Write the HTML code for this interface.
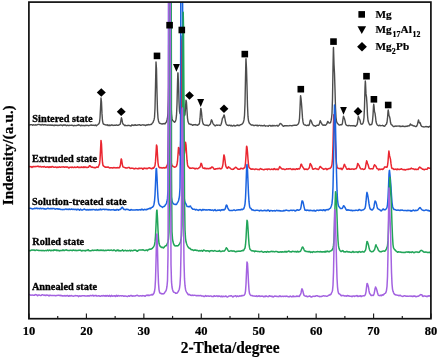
<!DOCTYPE html>
<html><head><meta charset="utf-8"><style>html,body{margin:0;padding:0;background:#fff;width:438px;height:358px;overflow:hidden}svg{display:block;will-change:transform}</style></head>
<body><svg width="438" height="358" viewBox="0 0 438 358">
<defs><clipPath id="c"><rect x="29" y="2" width="402" height="316.5"/></clipPath></defs>
<rect width="438" height="358" fill="#fff"/>
<g clip-path="url(#c)"><polyline points="29.0,124.9 29.5,125.0 30.0,124.9 30.5,124.7 31.0,124.6 31.5,124.6 32.0,124.7 32.5,125.2 33.0,125.1 33.5,124.7 34.0,124.9 34.5,125.1 35.0,125.1 35.5,124.8 36.0,124.8 36.5,125.1 37.0,124.9 37.5,124.6 38.0,124.5 38.5,124.4 39.0,124.4 39.5,124.6 40.0,124.7 40.5,124.8 41.0,125.1 41.5,125.0 42.0,124.5 42.5,124.4 43.0,124.9 43.5,125.1 44.0,124.8 44.5,124.7 45.0,124.8 45.5,124.7 46.0,125.1 46.5,125.1 47.0,124.9 47.5,125.3 48.0,125.2 48.5,125.0 49.0,125.1 49.5,125.2 50.0,124.9 50.5,124.9 51.0,125.4 51.5,125.1 52.0,125.0 52.5,125.4 53.0,125.1 53.5,125.4 54.0,125.7 54.5,125.1 55.0,125.0 55.5,125.3 56.0,125.3 56.5,125.3 57.0,125.3 57.5,125.3 58.0,125.6 58.5,125.4 59.0,125.1 59.5,125.2 60.0,125.2 60.5,125.0 61.0,124.9 61.5,125.1 62.0,125.4 62.5,125.7 63.0,125.2 63.5,124.9 64.0,125.3 64.5,125.0 65.0,124.8 65.5,125.2 66.0,125.5 66.5,125.7 67.0,125.4 67.5,125.2 68.0,125.2 68.5,125.6 69.0,125.6 69.5,125.2 70.0,125.4 70.5,125.4 71.0,125.3 71.5,125.1 72.0,125.1 72.5,125.3 73.0,125.5 73.5,125.8 74.0,125.5 74.5,125.5 75.0,125.5 75.5,125.6 76.0,125.6 76.5,125.5 77.0,125.3 77.5,125.2 78.0,125.2 78.5,124.7 79.0,125.0 79.5,125.2 80.0,125.3 80.5,125.9 81.0,125.7 81.5,125.2 82.0,125.4 82.5,125.6 83.0,125.5 83.5,125.4 84.0,125.6 84.5,125.7 85.0,125.4 85.5,125.3 86.0,125.5 86.5,125.3 87.0,125.3 87.5,125.4 88.0,125.5 88.5,125.7 89.0,125.6 89.5,125.4 90.0,125.4 90.5,125.1 91.0,124.9 91.5,125.3 92.0,125.1 92.5,125.2 93.0,125.2 93.5,125.2 94.0,125.4 94.5,125.3 95.0,125.5 95.5,125.0 96.0,125.1 96.5,125.7 97.0,125.3 97.5,124.8 98.0,124.5 98.5,124.0 99.0,123.6 99.5,122.3 100.0,118.0 100.5,108.6 101.0,98.0 101.5,102.2 102.0,113.9 102.5,120.7 103.0,123.1 103.5,124.1 104.0,124.3 104.5,124.5 105.0,124.7 105.5,124.9 106.0,125.0 106.5,125.0 107.0,124.9 107.5,124.8 108.0,125.5 108.5,125.5 109.0,125.0 109.5,125.2 110.0,125.7 110.5,125.4 111.0,125.0 111.5,125.2 112.0,124.9 112.5,125.2 113.0,125.5 113.5,125.4 114.0,125.2 114.5,125.3 115.0,125.3 115.5,125.2 116.0,125.1 116.5,124.9 117.0,125.3 117.5,125.4 118.0,125.2 118.5,125.2 119.0,124.9 119.5,124.6 120.0,124.4 120.5,123.0 121.0,119.9 121.4,117.8 121.5,117.9 122.0,119.8 122.5,122.7 123.0,124.1 123.5,124.3 124.0,124.9 124.5,125.5 125.0,125.3 125.5,125.3 126.0,125.5 126.5,125.6 127.0,125.6 127.5,125.4 128.0,125.5 128.5,125.4 129.0,125.3 129.5,125.6 130.0,125.6 130.5,125.9 131.0,126.0 131.5,125.4 132.0,124.8 132.5,125.2 133.0,125.3 133.5,125.1 134.0,125.5 134.5,125.2 135.0,124.6 135.5,124.9 136.0,125.4 136.5,125.3 137.0,125.2 137.5,125.1 138.0,124.8 138.5,124.9 139.0,125.0 139.5,124.7 140.0,125.0 140.5,125.3 141.0,125.3 141.5,125.1 142.0,124.9 142.5,124.9 143.0,124.8 143.5,125.0 144.0,125.0 144.5,125.0 145.0,125.3 145.5,125.6 146.0,125.2 146.5,124.9 147.0,125.2 147.5,124.9 148.0,124.6 148.5,124.5 149.0,124.9 149.5,124.9 150.0,124.6 150.5,124.5 151.0,124.5 151.5,124.4 152.0,123.5 152.5,123.0 153.0,122.5 153.5,121.1 154.0,119.9 154.5,117.4 155.0,108.2 155.5,86.0 156.0,61.9 156.5,68.7 157.0,93.0 157.5,110.6 158.0,118.1 158.5,120.9 159.0,122.3 159.5,123.2 160.0,123.5 160.5,123.5 161.0,123.7 161.5,123.9 162.0,124.1 162.5,124.0 163.0,123.7 163.5,123.9 164.0,123.5 164.5,123.7 165.0,124.0 165.5,123.2 166.0,122.5 166.5,121.9 167.0,119.9 167.5,117.6 168.0,113.1 168.5,99.0 169.0,66.4 169.5,30.7 170.0,39.7 170.5,74.3 171.0,102.0 171.5,113.7 172.0,118.4 172.5,120.3 173.0,120.9 173.5,121.2 174.0,121.8 174.5,122.3 175.0,121.9 175.5,121.1 176.0,119.4 176.5,115.2 177.0,104.2 177.5,83.4 177.8,73.5 178.0,72.8 178.5,84.0 179.0,101.4 179.5,111.3 180.0,113.5 180.5,111.0 181.0,99.0 181.5,68.9 182.0,35.9 182.5,43.6 183.0,74.3 183.5,101.0 184.0,112.5 184.5,115.7 185.0,114.5 185.5,108.0 186.0,100.1 186.5,102.5 187.0,110.8 187.5,118.1 188.0,121.5 188.5,122.8 189.0,123.9 189.5,124.1 190.0,124.0 190.5,124.3 191.0,124.6 191.5,124.4 192.0,124.6 192.5,125.3 193.0,125.2 193.5,124.8 194.0,124.7 194.5,124.8 195.0,124.8 195.5,124.5 196.0,125.0 196.5,125.0 197.0,124.9 197.5,125.3 198.0,125.0 198.5,124.5 199.0,124.3 199.5,122.9 200.0,118.7 200.5,111.5 200.8,108.4 201.0,108.8 201.5,112.4 202.0,117.9 202.5,121.6 203.0,123.4 203.5,124.4 204.0,124.7 204.5,124.9 205.0,125.2 205.5,125.1 206.0,125.1 206.5,125.3 207.0,125.3 207.5,125.3 208.0,125.7 208.5,125.7 209.0,125.3 209.5,124.7 210.0,124.5 210.5,123.6 211.0,121.3 211.5,119.8 212.0,120.7 212.5,122.2 213.0,123.5 213.5,124.3 214.0,124.9 214.5,125.2 215.0,125.9 215.5,125.9 216.0,125.3 216.5,125.0 217.0,125.2 217.5,125.4 218.0,125.1 218.5,125.1 219.0,125.1 219.5,125.2 220.0,125.5 220.5,125.3 221.0,124.5 221.5,123.1 222.0,120.6 222.4,118.4 222.5,118.1 223.0,117.7 223.5,116.6 224.0,115.0 224.1,115.1 224.5,116.1 225.0,119.0 225.5,121.8 226.0,123.4 226.5,124.6 227.0,125.1 227.5,125.2 228.0,125.4 228.5,125.6 229.0,125.2 229.5,125.1 230.0,125.5 230.5,125.8 231.0,125.3 231.5,125.4 232.0,126.0 232.5,126.0 233.0,125.8 233.5,125.4 234.0,125.3 234.5,125.8 235.0,126.0 235.5,125.8 236.0,125.7 236.5,125.4 237.0,125.2 237.5,125.0 238.0,125.5 238.5,125.3 239.0,125.3 239.5,125.5 240.0,125.0 240.5,124.7 241.0,124.6 241.5,124.5 242.0,124.2 242.5,123.6 243.0,123.0 243.5,121.9 244.0,119.9 244.5,115.5 245.0,103.6 245.5,77.7 245.9,59.5 246.0,58.8 246.5,68.6 247.0,86.1 247.5,105.9 248.0,116.7 248.5,120.8 249.0,122.4 249.5,123.5 250.0,123.8 250.5,124.4 251.0,124.8 251.5,125.0 252.0,125.2 252.5,125.0 253.0,125.1 253.5,125.4 254.0,125.7 254.5,125.5 255.0,125.4 255.5,125.3 256.0,125.4 256.5,125.6 257.0,125.1 257.5,125.4 258.0,126.0 258.5,125.7 259.0,125.3 259.5,125.4 260.0,125.4 260.5,125.7 261.0,125.7 261.5,125.5 262.0,125.8 262.5,125.8 263.0,125.8 263.5,125.8 264.0,125.4 264.5,125.3 265.0,125.9 265.5,126.2 266.0,125.9 266.5,125.9 267.0,125.9 267.5,125.9 268.0,126.3 268.5,126.1 269.0,125.4 269.5,125.4 270.0,125.4 270.5,125.8 271.0,126.2 271.5,125.9 272.0,125.4 272.5,125.5 273.0,126.1 273.5,125.6 274.0,125.4 274.5,125.8 275.0,125.9 275.5,125.9 276.0,125.6 276.5,125.5 277.0,125.3 277.5,125.9 278.0,126.2 278.5,125.8 279.0,125.3 279.5,124.5 280.0,123.7 280.4,123.4 280.5,123.5 281.0,123.8 281.5,124.1 282.0,124.8 282.5,125.5 283.0,125.9 283.5,126.4 284.0,126.1 284.5,125.6 285.0,125.7 285.5,125.7 286.0,125.6 286.5,125.7 287.0,125.6 287.5,125.8 288.0,125.9 288.5,125.9 289.0,125.8 289.5,125.6 290.0,125.5 290.5,125.6 291.0,125.6 291.5,125.7 292.0,125.8 292.5,125.5 293.0,125.5 293.5,125.4 294.0,125.3 294.5,125.4 295.0,125.1 295.5,125.1 296.0,125.4 296.5,125.3 297.0,125.0 297.5,124.7 298.0,124.2 298.5,123.5 299.0,122.1 299.5,118.3 300.0,108.6 300.5,96.4 300.6,95.7 301.0,98.4 301.5,103.6 302.0,110.4 302.5,117.9 303.0,121.9 303.5,123.9 304.0,124.5 304.5,124.9 305.0,125.0 305.5,125.0 306.0,125.4 306.5,125.6 307.0,125.5 307.5,125.1 308.0,125.1 308.5,125.5 309.0,125.3 309.5,124.0 310.0,121.2 310.4,119.9 310.5,120.1 311.0,120.6 311.5,121.5 312.0,123.2 312.5,124.1 313.0,124.8 313.5,125.6 314.0,125.7 314.5,125.6 315.0,126.0 315.5,126.3 316.0,125.9 316.5,125.6 317.0,125.3 317.5,125.2 318.0,125.4 318.5,125.4 319.0,124.8 319.5,123.6 320.0,121.3 320.2,120.6 320.5,121.2 321.0,122.3 321.5,123.1 322.0,124.3 322.5,124.9 323.0,125.2 323.5,125.2 324.0,124.8 324.5,125.1 325.0,125.4 325.5,125.3 326.0,124.8 326.5,124.2 327.0,123.5 327.5,122.0 327.7,121.4 328.0,121.6 328.5,122.6 329.0,122.9 329.5,123.0 330.0,123.0 330.5,122.7 331.0,120.9 331.5,118.5 332.0,113.6 332.5,98.4 333.0,67.5 333.4,47.8 333.5,47.4 334.0,64.1 334.5,73.5 335.0,89.5 335.5,107.8 336.0,117.3 336.5,121.3 337.0,122.7 337.5,123.3 338.0,123.9 338.5,124.6 339.0,124.8 339.5,125.0 340.0,125.0 340.5,124.7 341.0,124.8 341.5,124.8 342.0,124.6 342.5,122.7 343.0,118.9 343.5,116.1 344.0,117.9 344.5,118.9 345.0,120.6 345.5,123.4 346.0,124.7 346.5,125.1 347.0,125.5 347.5,125.6 348.0,125.7 348.5,125.7 349.0,125.3 349.5,125.6 350.0,125.6 350.5,125.7 351.0,125.9 351.5,125.6 352.0,125.6 352.5,125.7 353.0,125.8 353.5,125.8 354.0,125.5 354.5,125.8 355.0,126.2 355.5,126.3 356.0,125.7 356.5,125.1 357.0,124.7 357.5,122.8 358.0,118.6 358.4,116.4 358.5,116.7 359.0,118.7 359.5,119.1 360.0,120.2 360.5,122.7 361.0,124.0 361.5,124.1 362.0,124.2 362.5,123.9 363.0,123.1 363.5,121.5 364.0,117.5 364.5,106.8 365.0,87.8 365.3,81.0 365.5,82.7 366.0,93.9 366.5,97.1 367.0,104.4 367.5,115.2 368.0,120.5 368.5,122.3 369.0,123.4 369.5,124.6 370.0,125.1 370.5,124.6 371.0,124.5 371.5,124.6 372.0,123.6 372.5,120.8 373.0,115.1 373.5,106.1 373.7,104.2 374.0,106.0 374.5,111.6 375.0,113.1 375.5,116.8 376.0,121.5 376.5,123.4 377.0,124.3 377.5,125.1 378.0,125.3 378.5,125.7 379.0,125.6 379.5,125.2 380.0,125.4 380.5,125.7 381.0,125.6 381.5,125.6 382.0,125.6 382.5,125.3 383.0,125.6 383.5,126.1 384.0,126.0 384.5,126.3 385.0,125.9 385.5,125.0 386.0,124.5 386.5,124.0 387.0,122.3 387.5,118.2 388.0,111.2 388.2,110.0 388.5,111.6 389.0,115.7 389.5,116.5 390.0,118.6 390.5,122.3 391.0,124.2 391.5,124.9 392.0,125.0 392.5,125.3 393.0,126.2 393.5,126.6 394.0,126.6 394.5,126.4 395.0,126.0 395.5,126.2 396.0,126.4 396.5,126.1 397.0,126.0 397.5,126.1 398.0,126.1 398.5,126.1 399.0,125.9 399.5,125.9 400.0,126.6 400.5,126.6 401.0,126.1 401.5,126.3 402.0,126.5 402.5,126.2 403.0,126.0 403.5,126.4 404.0,126.5 404.5,126.4 405.0,126.6 405.5,126.5 406.0,126.2 406.5,126.2 407.0,126.5 407.5,126.2 408.0,125.7 408.5,125.9 409.0,126.0 409.5,125.7 410.0,124.9 410.3,124.1 410.5,124.0 411.0,125.0 411.5,124.9 412.0,125.1 412.5,125.6 413.0,125.5 413.5,125.8 414.0,126.0 414.5,125.9 415.0,126.3 415.5,126.5 416.0,126.6 416.5,126.4 417.0,125.4 417.5,124.2 418.0,122.0 418.5,119.9 419.0,121.7 419.5,123.1 420.0,122.5 420.5,123.7 421.0,125.5 421.5,126.1 422.0,126.5 422.5,126.6 423.0,126.7 423.5,126.9 424.0,127.0 424.5,126.9 425.0,126.9 425.5,126.6 426.0,126.5 426.5,126.7 427.0,126.8 427.5,126.6 428.0,126.9 428.5,127.2 429.0,126.7 429.5,126.3 430.0,126.5 430.5,126.9 431.0,126.8" fill="none" stroke="#4d4d4d" stroke-width="1.4" stroke-linejoin="round"/><polyline points="29.0,166.7 29.5,166.6 30.0,166.7 30.5,166.7 31.0,166.6 31.5,166.9 32.0,167.4 32.5,167.0 33.0,166.4 33.5,166.5 34.0,166.7 34.5,166.7 35.0,166.4 35.5,166.7 36.0,166.6 36.5,166.4 37.0,166.5 37.5,166.3 38.0,166.1 38.5,166.4 39.0,166.8 39.5,166.8 40.0,166.4 40.5,166.4 41.0,166.9 41.5,167.1 42.0,166.9 42.5,166.7 43.0,166.8 43.5,166.9 44.0,166.5 44.5,166.5 45.0,167.0 45.5,167.2 46.0,167.2 46.5,167.0 47.0,167.0 47.5,167.0 48.0,166.8 48.5,167.4 49.0,167.6 49.5,167.0 50.0,166.8 50.5,167.0 51.0,167.3 51.5,167.1 52.0,166.5 52.5,166.6 53.0,166.9 53.5,167.0 54.0,167.3 54.5,167.3 55.0,167.2 55.5,166.9 56.0,167.0 56.5,167.6 57.0,167.6 57.5,167.2 58.0,167.1 58.5,167.4 59.0,167.2 59.5,166.8 60.0,167.1 60.5,167.3 61.0,167.1 61.5,167.0 62.0,167.1 62.5,167.1 63.0,167.1 63.5,166.8 64.0,166.9 64.5,167.3 65.0,167.1 65.5,166.9 66.0,167.2 66.5,167.0 67.0,167.0 67.5,167.0 68.0,167.2 68.5,167.8 69.0,168.0 69.5,167.5 70.0,167.3 70.5,167.3 71.0,167.2 71.5,167.5 72.0,167.2 72.5,167.1 73.0,167.4 73.5,167.5 74.0,167.5 74.5,167.1 75.0,167.1 75.5,167.4 76.0,167.4 76.5,167.3 77.0,167.2 77.5,166.7 78.0,167.0 78.5,167.6 79.0,167.4 79.5,167.3 80.0,167.5 80.5,167.4 81.0,167.0 81.5,167.1 82.0,167.5 82.5,167.2 83.0,167.3 83.5,167.4 84.0,166.9 84.5,167.3 85.0,167.5 85.5,167.0 86.0,167.0 86.5,167.4 87.0,167.7 87.5,167.4 88.0,167.2 88.5,167.2 89.0,166.5 89.5,165.8 89.6,165.9 90.0,165.8 90.5,166.3 91.0,166.9 91.5,167.2 92.0,167.1 92.5,167.1 93.0,167.4 93.5,167.5 94.0,167.5 94.5,167.7 95.0,167.6 95.5,167.8 96.0,167.4 96.5,167.1 97.0,167.1 97.5,167.2 98.0,167.4 98.5,166.3 99.0,165.2 99.5,164.2 100.0,159.9 100.5,150.2 101.0,140.4 101.5,144.2 102.0,155.4 102.5,162.5 103.0,165.4 103.5,165.9 104.0,166.3 104.5,166.8 105.0,167.0 105.5,167.3 106.0,167.0 106.5,167.2 107.0,167.3 107.5,167.1 108.0,167.0 108.5,167.2 109.0,167.6 109.5,167.9 110.0,167.8 110.5,167.8 111.0,167.9 111.5,167.7 112.0,167.8 112.5,168.0 113.0,167.9 113.5,167.6 114.0,167.7 114.5,167.7 115.0,167.6 115.5,167.8 116.0,167.9 116.5,167.8 117.0,167.7 117.5,167.6 118.0,167.9 118.5,167.6 119.0,167.8 119.5,167.7 120.0,166.6 120.5,164.3 121.0,160.1 121.2,158.9 121.5,159.2 122.0,162.4 122.5,165.5 123.0,166.9 123.5,167.1 124.0,167.3 124.5,167.4 125.0,167.6 125.5,167.9 126.0,167.8 126.5,167.9 127.0,168.1 127.5,167.9 128.0,167.5 128.5,167.6 129.0,167.6 129.5,167.6 130.0,168.4 130.5,168.4 131.0,168.2 131.5,168.2 132.0,168.1 132.5,168.3 133.0,168.3 133.5,168.5 134.0,168.9 134.5,168.8 135.0,168.5 135.5,168.3 136.0,168.4 136.5,168.5 137.0,168.6 137.5,168.7 138.0,168.9 138.5,168.5 139.0,168.1 139.5,168.6 140.0,168.6 140.5,168.3 141.0,168.3 141.5,168.2 142.0,168.3 142.5,169.0 143.0,169.2 143.5,168.5 144.0,168.1 144.5,168.2 145.0,168.6 145.5,168.5 146.0,168.2 146.5,168.5 147.0,168.8 147.5,168.6 148.0,168.2 148.5,167.9 149.0,168.0 149.5,167.8 150.0,168.1 150.5,168.4 151.0,168.3 151.5,168.7 152.0,168.8 152.5,168.1 153.0,168.0 153.5,168.2 154.0,167.6 154.5,166.7 155.0,165.5 155.5,161.4 156.0,153.4 156.5,145.0 157.0,146.5 157.5,155.6 158.0,162.8 158.5,166.0 159.0,167.2 159.5,167.5 160.0,167.9 160.5,167.7 161.0,167.5 161.5,167.9 162.0,167.9 162.5,168.1 163.0,167.8 163.5,167.6 164.0,167.9 164.5,168.0 165.0,167.5 165.5,167.6 166.0,167.9 166.5,166.7 167.0,165.5 167.5,164.8 168.0,161.3 168.5,129.7 169.0,-65.8 169.5,-300.1 170.0,-66.0 170.5,129.2 171.0,160.5 171.5,164.2 172.0,165.3 172.5,165.9 173.0,166.4 173.5,166.7 174.0,166.8 174.5,167.2 175.0,167.2 175.5,166.9 176.0,166.6 176.5,166.0 177.0,164.6 177.5,161.2 178.0,154.6 178.5,147.5 179.0,148.0 179.5,152.9 180.0,155.2 180.5,150.3 181.0,129.6 181.5,84.6 182.0,39.9 182.5,49.1 183.0,93.0 183.5,131.9 184.0,150.0 184.5,153.3 185.0,148.1 185.5,142.2 186.0,144.9 186.5,152.8 187.0,160.2 187.5,164.7 188.0,166.4 188.5,166.8 189.0,167.4 189.5,168.1 190.0,168.4 190.5,168.1 191.0,168.1 191.5,168.3 192.0,168.2 192.5,167.9 193.0,168.1 193.5,168.2 194.0,168.2 194.5,168.4 195.0,168.9 195.5,168.8 196.0,168.3 196.5,168.4 197.0,168.6 197.5,168.8 198.0,168.6 198.5,168.2 199.0,167.8 199.5,167.5 200.0,167.1 200.5,165.4 201.0,163.3 201.5,163.6 202.0,165.5 202.5,167.3 203.0,168.1 203.5,168.3 204.0,168.1 204.5,168.0 205.0,168.8 205.5,168.6 206.0,168.2 206.5,168.7 207.0,168.7 207.5,168.5 208.0,168.6 208.5,168.7 209.0,168.7 209.5,168.3 210.0,168.3 210.5,168.4 211.0,167.9 211.5,167.4 212.0,166.9 212.5,167.1 213.0,167.6 213.5,168.3 214.0,169.0 214.5,169.2 215.0,169.3 215.5,169.0 216.0,168.7 216.5,168.9 217.0,168.7 217.5,168.6 218.0,168.7 218.5,168.6 219.0,168.3 219.5,168.2 220.0,168.5 220.5,168.8 221.0,168.9 221.5,168.5 222.0,167.9 222.5,166.6 223.0,163.8 223.5,158.5 223.9,154.9 224.0,155.0 224.5,156.7 225.0,160.4 225.5,164.5 226.0,166.7 226.5,167.4 227.0,168.2 227.5,168.4 228.0,167.4 228.5,166.9 228.6,167.4 229.0,167.3 229.5,167.4 230.0,168.0 230.5,168.6 231.0,168.9 231.5,169.2 232.0,169.3 232.5,169.3 233.0,169.4 233.5,169.2 234.0,168.6 234.5,168.1 235.0,167.8 235.5,167.2 236.0,167.4 236.5,167.9 237.0,168.1 237.5,168.8 238.0,169.3 238.5,169.1 239.0,169.1 239.5,169.3 240.0,169.2 240.5,168.4 241.0,168.2 241.5,168.6 242.0,168.5 242.5,168.5 243.0,168.9 243.5,168.6 244.0,167.8 244.5,167.9 245.0,166.9 245.5,163.0 246.0,155.7 246.5,147.3 246.6,146.2 247.0,147.0 247.5,152.3 248.0,159.2 248.5,164.6 249.0,167.3 249.5,168.0 250.0,168.3 250.5,168.6 251.0,169.2 251.5,169.2 252.0,169.0 252.5,169.2 253.0,168.9 253.5,169.1 254.0,169.3 254.5,169.5 255.0,169.4 255.5,169.0 256.0,168.9 256.5,169.1 257.0,169.3 257.5,169.5 258.0,169.5 258.5,169.4 259.0,169.7 259.5,169.5 260.0,168.9 260.5,168.6 261.0,168.7 261.5,169.2 262.0,169.3 262.5,169.3 263.0,169.6 263.5,169.7 264.0,169.8 264.5,169.4 265.0,169.2 265.5,169.2 266.0,169.3 266.5,169.2 267.0,169.1 267.5,169.6 268.0,169.2 268.5,169.0 269.0,169.1 269.5,169.1 270.0,169.5 270.5,169.4 271.0,169.4 271.5,169.1 272.0,169.2 272.5,169.4 273.0,169.3 273.5,169.4 274.0,168.8 274.5,168.6 275.0,169.1 275.5,169.6 276.0,169.6 276.5,169.3 277.0,169.0 277.5,169.2 278.0,169.7 278.5,169.2 279.0,168.3 279.5,167.0 279.9,166.6 280.0,167.4 280.5,167.7 281.0,168.0 281.5,168.7 282.0,168.8 282.5,169.1 283.0,169.2 283.5,168.9 284.0,169.2 284.5,169.5 285.0,169.5 285.5,169.4 286.0,169.2 286.5,168.8 287.0,169.0 287.5,169.1 288.0,168.9 288.5,168.8 289.0,168.9 289.5,168.8 290.0,168.6 290.5,168.7 291.0,169.0 291.5,169.4 292.0,169.7 292.5,169.4 293.0,168.8 293.5,169.3 294.0,169.4 294.5,169.1 295.0,169.5 295.5,169.5 296.0,168.9 296.5,168.7 297.0,169.0 297.5,169.3 298.0,168.9 298.5,168.6 299.0,168.9 299.5,169.0 300.0,168.0 300.5,166.4 301.0,164.8 301.1,164.2 301.5,164.3 302.0,165.6 302.5,166.7 303.0,167.4 303.5,168.2 304.0,169.0 304.5,169.5 305.0,169.0 305.5,169.2 306.0,169.4 306.5,169.1 307.0,169.5 307.5,169.5 308.0,169.2 308.5,168.6 309.0,168.2 309.5,167.1 310.0,164.1 310.4,163.5 310.5,164.1 311.0,164.7 311.5,165.4 312.0,166.9 312.5,168.7 313.0,169.3 313.5,169.2 314.0,168.8 314.5,168.8 315.0,168.6 315.5,168.3 316.0,168.8 316.5,169.0 317.0,168.9 317.5,169.0 318.0,169.4 318.5,169.5 319.0,168.6 319.5,167.5 320.0,166.5 320.5,166.5 321.0,167.3 321.5,167.7 322.0,168.2 322.5,168.5 323.0,168.7 323.5,169.4 324.0,169.2 324.5,168.9 325.0,168.9 325.5,168.6 326.0,168.5 326.5,169.0 327.0,169.7 327.5,169.4 328.0,168.7 328.5,168.7 329.0,168.6 329.5,168.5 330.0,168.4 330.5,167.9 331.0,167.5 331.5,166.4 332.0,164.3 332.5,158.7 333.0,144.7 333.5,122.8 333.8,114.7 334.0,115.2 334.5,125.7 335.0,133.9 335.5,146.3 336.0,157.9 336.5,163.8 337.0,166.4 337.5,167.8 338.0,168.3 338.5,168.3 339.0,168.6 339.5,168.5 340.0,168.7 340.5,168.9 341.0,168.1 341.5,168.8 342.0,169.6 342.5,168.8 343.0,168.1 343.5,167.1 344.0,165.3 344.3,164.4 344.5,164.3 345.0,165.6 345.5,166.4 346.0,167.5 346.5,168.5 347.0,169.3 347.5,169.3 348.0,169.0 348.5,168.8 349.0,168.5 349.5,169.2 350.0,169.3 350.5,169.1 351.0,169.3 351.5,169.0 352.0,168.9 352.5,169.0 353.0,169.0 353.5,169.2 354.0,169.4 354.5,169.1 355.0,168.8 355.5,168.8 356.0,168.7 356.5,168.1 357.0,166.9 357.5,164.5 357.7,163.5 358.0,163.6 358.5,164.7 359.0,165.2 359.5,166.4 360.0,167.8 360.5,168.5 361.0,169.0 361.5,169.1 362.0,168.9 362.5,168.8 363.0,169.1 363.5,169.4 364.0,169.4 364.5,169.2 365.0,168.7 365.5,167.2 366.0,164.0 366.5,161.4 366.6,160.8 367.0,161.4 367.5,163.7 368.0,164.4 368.5,166.2 369.0,168.1 369.5,168.6 370.0,168.8 370.5,168.9 371.0,168.7 371.5,168.7 372.0,168.8 372.5,168.9 373.0,168.7 373.5,167.4 374.0,165.8 374.5,164.7 375.0,165.3 375.5,165.9 376.0,166.2 376.5,167.6 377.0,168.6 377.5,168.6 378.0,168.9 378.5,169.9 379.0,169.4 379.5,169.0 380.0,169.5 380.5,169.3 381.0,169.4 381.5,169.2 382.0,168.9 382.5,169.4 383.0,169.3 383.5,168.7 384.0,168.2 384.5,167.2 384.9,166.9 385.0,166.8 385.5,167.1 386.0,167.2 386.5,167.1 387.0,167.3 387.5,165.6 388.0,161.8 388.5,155.0 388.9,151.0 389.0,151.6 389.5,155.4 390.0,157.4 390.5,159.4 391.0,163.7 391.5,166.9 392.0,168.4 392.5,168.5 393.0,168.6 393.5,169.2 394.0,169.5 394.5,169.3 395.0,169.2 395.5,169.2 396.0,169.1 396.5,169.6 397.0,169.7 397.5,169.1 398.0,169.0 398.5,169.4 399.0,169.6 399.5,169.5 400.0,169.2 400.5,169.2 401.0,169.0 401.5,168.8 402.0,169.3 402.5,169.5 403.0,169.4 403.5,169.7 404.0,169.8 404.5,169.5 405.0,169.9 405.5,170.0 406.0,169.5 406.5,169.5 407.0,169.6 407.5,169.3 408.0,169.2 408.5,169.4 409.0,168.9 409.5,168.9 410.0,169.2 410.5,168.9 411.0,168.3 411.4,168.1 411.5,168.4 412.0,168.7 412.5,168.7 413.0,168.8 413.5,169.0 414.0,169.0 414.5,169.6 415.0,169.5 415.5,169.1 416.0,169.5 416.5,169.5 417.0,169.2 417.5,169.3 418.0,169.5 418.5,168.7 419.0,167.7 419.5,167.2 419.7,167.0 420.0,167.2 420.5,167.8 421.0,168.1 421.5,168.2 422.0,168.7 422.5,169.3 423.0,169.2 423.5,169.2 424.0,169.7 424.5,169.8 425.0,169.3 425.5,169.2 426.0,169.2 426.5,169.2 427.0,169.4 427.5,168.7 428.0,167.7 428.3,167.9 428.5,167.9 429.0,168.2 429.5,168.3 430.0,168.1 430.5,168.5 431.0,169.5" fill="none" stroke="#ea2630" stroke-width="1.5" stroke-linejoin="round"/><polyline points="29.0,208.3 29.5,208.2 30.0,208.2 30.5,208.3 31.0,208.5 31.5,208.6 32.0,208.9 32.5,208.9 33.0,208.8 33.5,208.8 34.0,208.7 34.5,208.3 35.0,208.2 35.5,208.5 36.0,208.5 36.5,208.1 37.0,208.3 37.5,208.7 38.0,208.4 38.5,208.5 39.0,208.5 39.5,208.7 40.0,208.5 40.5,208.2 41.0,208.5 41.5,208.8 42.0,208.6 42.5,208.5 43.0,208.4 43.5,208.5 44.0,209.0 44.5,208.8 45.0,208.9 45.5,209.2 46.0,208.9 46.5,208.9 47.0,208.7 47.5,208.2 48.0,208.2 48.5,208.5 49.0,208.7 49.5,208.7 50.0,208.8 50.5,208.5 51.0,208.6 51.5,208.7 52.0,208.5 52.5,208.7 53.0,208.6 53.5,208.5 54.0,208.5 54.5,208.8 55.0,209.1 55.5,209.2 56.0,208.9 56.5,208.7 57.0,208.7 57.5,209.0 58.0,208.8 58.5,208.9 59.0,209.3 59.5,208.9 60.0,209.0 60.5,209.4 61.0,209.4 61.5,209.4 62.0,209.4 62.5,209.5 63.0,209.7 63.5,209.4 64.0,209.5 64.5,209.6 65.0,209.3 65.5,209.1 66.0,209.0 66.5,209.4 67.0,209.2 67.5,209.2 68.0,209.5 68.5,209.5 69.0,209.0 69.5,208.9 70.0,209.5 70.5,209.4 71.0,209.3 71.5,209.0 72.0,209.1 72.5,209.4 73.0,209.5 73.5,209.3 74.0,209.2 74.5,209.6 75.0,209.6 75.5,209.5 76.0,209.2 76.5,209.9 77.0,209.8 77.5,209.2 78.0,209.4 78.5,209.3 79.0,209.6 79.5,210.2 80.0,209.8 80.5,209.1 81.0,209.5 81.5,210.0 82.0,210.0 82.5,210.0 83.0,209.7 83.5,209.4 84.0,209.3 84.5,209.0 85.0,209.5 85.5,209.7 86.0,209.9 86.5,210.1 87.0,209.5 87.5,209.7 88.0,210.1 88.5,210.1 89.0,209.5 89.5,209.5 90.0,210.0 90.5,209.8 91.0,209.4 91.5,209.7 92.0,209.9 92.5,209.5 93.0,209.4 93.5,209.4 94.0,209.6 94.5,209.7 95.0,209.9 95.5,210.0 96.0,209.5 96.5,209.4 97.0,209.9 97.5,209.9 98.0,210.0 98.5,209.8 99.0,209.4 99.5,209.7 100.0,209.7 100.5,209.0 101.0,209.5 101.5,209.8 102.0,209.5 102.5,209.4 103.0,209.2 103.5,209.2 104.0,209.4 104.5,209.7 105.0,209.3 105.5,209.4 106.0,209.6 106.5,209.3 107.0,209.6 107.5,209.8 108.0,209.4 108.5,209.8 109.0,209.9 109.5,209.6 110.0,209.8 110.5,210.0 111.0,209.9 111.5,209.8 112.0,209.8 112.5,209.8 113.0,209.8 113.5,209.5 114.0,210.0 114.5,210.2 115.0,209.8 115.5,210.2 116.0,210.2 116.5,209.6 117.0,209.7 117.5,209.6 118.0,209.7 118.5,210.2 119.0,209.8 119.5,209.4 120.0,209.4 120.5,209.4 121.0,208.7 121.5,208.1 122.0,207.3 122.5,207.3 123.0,208.3 123.5,208.9 124.0,209.4 124.5,209.4 125.0,209.5 125.5,209.8 126.0,209.5 126.5,209.3 127.0,209.2 127.5,209.6 128.0,209.6 128.5,209.6 129.0,210.0 129.5,210.2 130.0,210.3 130.5,210.0 131.0,209.5 131.5,209.7 132.0,210.0 132.5,210.0 133.0,210.0 133.5,210.0 134.0,210.1 134.5,210.0 135.0,210.0 135.5,209.9 136.0,209.8 136.5,209.8 137.0,209.9 137.5,209.8 138.0,209.9 138.5,210.0 139.0,209.8 139.5,209.8 140.0,209.6 140.5,210.0 141.0,210.0 141.5,209.3 142.0,209.2 142.5,209.4 143.0,209.9 143.5,210.0 144.0,209.7 144.5,209.5 145.0,209.3 145.5,209.6 146.0,209.9 146.5,209.5 147.0,209.2 147.5,209.4 148.0,208.9 148.5,208.8 149.0,208.8 149.5,208.2 150.0,208.2 150.5,208.6 151.0,208.1 151.5,207.4 152.0,207.4 152.5,207.2 153.0,206.5 153.5,205.9 154.0,204.2 154.5,201.2 155.0,194.9 155.5,183.7 156.0,171.4 156.2,168.5 156.5,168.4 157.0,177.0 157.5,189.0 158.0,197.6 158.5,202.2 159.0,204.1 159.5,205.0 160.0,205.7 160.5,206.1 161.0,206.4 161.5,206.5 162.0,207.0 162.5,207.4 163.0,207.0 163.5,206.6 164.0,206.6 164.5,206.4 165.0,205.5 165.5,204.8 166.0,204.1 166.5,203.2 167.0,201.3 167.5,198.4 168.0,189.2 168.5,104.4 169.0,-307.6 169.4,-599.8 169.5,-576.4 170.0,-96.7 170.5,160.7 171.0,194.3 171.5,198.8 172.0,200.8 172.5,202.1 173.0,203.1 173.5,203.9 174.0,204.2 174.5,204.3 175.0,204.4 175.5,204.3 176.0,204.4 176.5,204.5 177.0,203.5 177.5,202.6 178.0,201.9 178.5,200.8 179.0,198.8 179.5,195.6 180.0,187.8 180.5,136.9 181.0,-113.2 181.5,-537.3 181.7,-600.0 182.0,-467.1 182.5,-39.2 183.0,156.3 183.5,191.2 184.0,197.2 184.5,200.2 185.0,202.3 185.5,203.3 186.0,203.9 186.5,205.3 187.0,206.4 187.5,206.5 188.0,206.4 188.5,206.7 189.0,206.9 189.5,206.4 190.0,206.2 190.2,206.2 190.5,206.0 191.0,207.0 191.5,207.9 192.0,208.3 192.5,208.9 193.0,209.3 193.5,209.3 194.0,209.2 194.5,209.2 195.0,209.6 195.5,210.0 196.0,209.5 196.5,209.4 197.0,209.8 197.5,209.9 198.0,210.2 198.5,210.4 199.0,209.9 199.5,209.7 200.0,209.6 200.5,209.7 201.0,210.0 201.5,210.5 202.0,210.5 202.5,209.5 203.0,209.4 203.5,209.9 204.0,209.8 204.5,209.6 205.0,209.8 205.5,210.0 206.0,210.1 206.5,209.8 207.0,210.0 207.5,210.1 208.0,209.9 208.5,209.7 209.0,209.7 209.5,210.1 210.0,209.9 210.5,209.8 211.0,210.3 211.5,210.2 212.0,210.1 212.5,210.0 213.0,210.2 213.5,210.7 214.0,210.4 214.5,209.9 215.0,209.6 215.5,210.2 216.0,210.7 216.5,210.6 217.0,210.5 217.5,210.3 218.0,210.0 218.5,210.2 219.0,210.3 219.5,210.0 220.0,210.1 220.5,210.7 221.0,210.2 221.5,209.7 222.0,210.0 222.5,210.1 223.0,209.5 223.5,209.7 224.0,210.1 224.5,209.5 225.0,209.2 225.5,208.1 226.0,205.8 226.3,205.2 226.5,205.0 227.0,205.5 227.5,207.2 228.0,208.6 228.5,209.2 229.0,210.1 229.5,210.5 230.0,210.4 230.5,210.4 231.0,210.4 231.5,210.6 232.0,210.5 232.5,210.6 233.0,210.4 233.5,210.0 234.0,209.9 234.5,209.9 235.0,210.3 235.5,210.6 236.0,210.4 236.5,210.1 237.0,210.1 237.5,209.9 238.0,209.8 238.5,209.9 239.0,209.7 239.5,209.7 240.0,210.0 240.5,209.8 241.0,209.5 241.5,209.2 242.0,209.7 242.5,209.5 243.0,209.1 243.5,209.1 244.0,208.1 244.5,206.5 245.0,204.1 245.5,198.3 246.0,186.2 246.5,170.9 246.8,165.4 247.0,164.4 247.5,169.9 248.0,181.7 248.5,193.8 249.0,201.7 249.5,206.0 250.0,207.9 250.5,207.9 251.0,208.5 251.5,209.3 252.0,209.9 252.5,210.0 253.0,209.8 253.5,210.1 254.0,210.5 254.5,210.4 255.0,210.4 255.5,210.5 256.0,210.3 256.5,210.3 257.0,210.3 257.5,210.2 258.0,210.4 258.5,210.4 259.0,210.4 259.5,210.9 260.0,210.6 260.5,210.3 261.0,210.3 261.5,210.5 262.0,210.7 262.5,210.7 263.0,210.8 263.5,210.6 264.0,210.5 264.5,210.3 265.0,210.4 265.5,210.7 266.0,210.5 266.5,210.7 267.0,210.9 267.5,210.2 268.0,210.0 268.5,210.3 269.0,210.5 269.5,211.3 270.0,211.0 270.5,210.5 271.0,210.6 271.5,210.6 272.0,210.8 272.5,211.0 273.0,210.7 273.5,210.7 274.0,210.7 274.5,210.5 275.0,210.9 275.5,211.0 276.0,210.6 276.5,210.3 277.0,210.4 277.5,210.5 278.0,210.8 278.5,210.6 279.0,210.5 279.5,210.8 280.0,210.9 280.5,210.8 281.0,211.0 281.5,211.0 282.0,210.9 282.5,210.9 283.0,211.1 283.5,210.6 284.0,210.5 284.5,210.8 285.0,210.5 285.5,210.4 286.0,210.0 286.5,210.2 287.0,210.4 287.5,210.6 288.0,210.4 288.5,210.6 289.0,210.9 289.5,210.6 290.0,210.4 290.5,210.3 291.0,210.2 291.5,210.3 292.0,210.5 292.5,210.5 293.0,210.2 293.5,210.2 294.0,210.3 294.5,210.4 295.0,210.9 295.5,211.0 296.0,210.6 296.5,210.1 297.0,209.8 297.5,209.8 298.0,210.2 298.5,210.3 299.0,210.0 299.5,209.9 300.0,209.5 300.5,209.1 301.0,207.1 301.5,203.8 302.0,201.0 302.1,200.9 302.5,200.9 303.0,202.0 303.5,204.2 304.0,206.6 304.5,208.6 305.0,210.2 305.5,210.3 306.0,210.1 306.5,210.5 307.0,210.2 307.5,210.1 308.0,210.3 308.5,210.2 309.0,210.7 309.5,210.5 310.0,210.2 310.5,210.6 311.0,210.4 311.5,210.4 312.0,210.7 312.5,210.7 313.0,210.6 313.5,210.7 314.0,210.2 314.5,210.4 315.0,211.2 315.5,211.1 316.0,210.9 316.5,210.4 317.0,210.1 317.5,210.3 318.0,210.2 318.5,210.5 319.0,210.4 319.5,210.2 320.0,210.0 320.5,209.9 321.0,210.3 321.5,210.2 322.0,210.0 322.5,210.5 323.0,210.4 323.5,209.7 324.0,209.8 324.5,210.2 325.0,210.7 325.5,210.5 326.0,209.8 326.5,209.6 327.0,209.8 327.5,209.6 328.0,209.5 328.5,209.7 329.0,209.2 329.5,208.7 330.0,208.4 330.5,208.0 331.0,206.8 331.5,205.5 332.0,203.4 332.5,198.3 333.0,187.2 333.5,164.6 334.0,130.8 334.5,105.0 335.0,109.0 335.5,125.9 336.0,148.5 336.5,173.0 337.0,190.4 337.5,199.6 338.0,203.6 338.5,205.8 339.0,206.7 339.5,207.2 340.0,208.0 340.5,208.5 341.0,208.4 341.5,208.6 342.0,208.6 342.5,208.0 343.0,206.9 343.5,205.7 344.0,206.0 344.5,206.7 345.0,207.4 345.5,208.4 346.0,209.4 346.5,210.0 347.0,210.3 347.5,210.0 348.0,209.7 348.5,210.0 349.0,210.2 349.5,210.2 350.0,210.1 350.5,210.4 351.0,210.5 351.5,210.2 352.0,210.4 352.5,210.8 353.0,210.5 353.5,210.5 354.0,210.4 354.5,210.5 355.0,210.6 355.5,210.2 356.0,210.2 356.5,210.2 357.0,210.3 357.5,210.5 358.0,210.4 358.5,210.3 359.0,209.5 359.5,209.6 360.0,210.0 360.5,210.0 361.0,210.5 361.5,210.5 362.0,210.1 362.5,210.0 363.0,209.9 363.5,209.7 364.0,209.3 364.5,208.8 365.0,208.2 365.5,206.1 366.0,201.7 366.5,195.8 366.9,192.6 367.0,192.4 367.5,194.1 368.0,196.9 368.5,200.1 369.0,203.7 369.5,206.5 370.0,208.6 370.5,209.4 371.0,209.3 371.5,209.8 372.0,210.1 372.5,209.8 373.0,209.1 373.5,208.5 374.0,206.7 374.5,203.3 375.0,201.1 375.5,201.2 376.0,202.4 376.5,204.2 377.0,206.5 377.5,208.2 378.0,208.9 378.5,209.1 379.0,209.5 379.5,209.6 380.0,209.9 380.5,210.5 381.0,210.9 381.5,210.8 382.0,210.1 382.5,209.7 383.0,209.1 383.5,209.1 384.0,209.7 384.5,209.8 385.0,209.8 385.5,209.5 386.0,209.0 386.5,208.4 387.0,207.5 387.5,204.5 388.0,198.1 388.5,187.0 389.0,174.4 389.3,170.6 389.5,170.3 390.0,175.2 390.5,180.5 391.0,187.1 391.5,195.6 392.0,202.3 392.5,206.2 393.0,207.9 393.5,208.8 394.0,209.4 394.5,209.5 395.0,209.6 395.5,209.8 396.0,210.1 396.5,210.2 397.0,210.2 397.5,210.2 398.0,209.9 398.5,210.2 399.0,210.3 399.5,210.3 400.0,210.6 400.5,210.2 401.0,209.9 401.5,210.2 402.0,210.2 402.5,210.1 403.0,210.4 403.5,210.6 404.0,210.6 404.5,210.5 405.0,210.5 405.5,210.5 406.0,210.4 406.5,210.7 407.0,210.7 407.5,210.5 408.0,210.3 408.5,210.4 409.0,210.7 409.5,210.6 410.0,210.4 410.5,210.5 411.0,211.2 411.5,211.0 412.0,210.6 412.5,210.7 413.0,210.2 413.5,210.1 414.0,210.5 414.5,210.7 415.0,210.8 415.5,210.3 416.0,210.3 416.5,210.5 417.0,210.4 417.5,210.2 418.0,209.8 418.5,209.1 419.0,208.5 419.5,207.9 419.7,207.7 420.0,207.5 420.5,208.1 421.0,208.7 421.5,209.2 422.0,209.9 422.5,210.1 423.0,210.3 423.5,210.5 424.0,210.6 424.5,210.6 425.0,210.4 425.5,210.0 426.0,210.0 426.5,210.1 427.0,210.2 427.5,210.6 428.0,210.3 428.5,210.4 429.0,210.9 429.5,210.8 430.0,211.0 430.5,211.4 431.0,210.8" fill="none" stroke="#1b64e0" stroke-width="1.5" stroke-linejoin="round"/><polyline points="29.0,250.6 29.5,250.7 30.0,250.6 30.5,250.7 31.0,250.4 31.5,250.1 32.0,250.1 32.5,250.1 33.0,250.2 33.5,250.1 34.0,249.9 34.5,250.3 35.0,250.5 35.5,250.4 36.0,250.1 36.5,249.9 37.0,250.1 37.5,250.3 38.0,250.3 38.5,250.5 39.0,250.6 39.5,250.4 40.0,250.4 40.5,250.5 41.0,250.4 41.5,250.5 42.0,250.7 42.5,250.5 43.0,250.4 43.5,250.5 44.0,250.7 44.5,250.8 45.0,250.6 45.5,250.6 46.0,250.6 46.5,250.7 47.0,250.6 47.5,250.0 48.0,250.2 48.5,250.7 49.0,250.2 49.5,250.1 50.0,250.2 50.5,250.6 51.0,250.9 51.5,250.2 52.0,250.2 52.5,250.4 53.0,250.7 53.5,250.6 54.0,249.7 54.5,249.9 55.0,250.3 55.5,250.2 56.0,249.9 56.5,250.0 57.0,250.8 57.5,250.3 58.0,250.2 58.5,250.5 59.0,250.7 59.5,250.9 60.0,250.4 60.5,250.6 61.0,250.7 61.5,250.4 62.0,250.4 62.5,250.4 63.0,249.9 63.5,250.4 64.0,250.7 64.5,250.2 65.0,250.3 65.5,250.1 66.0,249.8 66.5,250.0 67.0,250.2 67.5,250.3 68.0,250.6 68.5,250.5 69.0,250.4 69.5,250.6 70.0,250.3 70.5,250.2 71.0,250.2 71.5,250.4 72.0,250.7 72.5,250.5 73.0,250.1 73.5,250.1 74.0,250.2 74.5,250.4 75.0,250.5 75.5,250.2 76.0,250.4 76.5,250.7 77.0,250.4 77.5,250.5 78.0,250.5 78.5,250.2 79.0,250.3 79.5,250.2 80.0,250.1 80.5,250.2 81.0,250.6 81.5,251.0 82.0,250.6 82.5,250.6 83.0,250.7 83.5,250.4 84.0,250.6 84.5,250.6 85.0,250.9 85.5,250.9 86.0,250.2 86.5,250.4 87.0,250.5 87.5,250.2 88.0,249.7 88.5,250.0 89.0,250.7 89.5,250.7 90.0,250.7 90.5,250.9 91.0,250.7 91.5,250.5 92.0,250.4 92.5,250.1 93.0,250.5 93.5,250.6 94.0,250.2 94.5,250.2 95.0,250.4 95.5,250.2 96.0,250.3 96.5,250.4 97.0,250.0 97.5,249.8 98.0,250.5 98.5,250.4 99.0,250.1 99.5,250.5 100.0,250.6 100.5,250.2 101.0,250.0 101.5,250.3 102.0,250.5 102.5,250.4 103.0,250.0 103.5,250.3 104.0,250.8 104.5,250.6 105.0,250.3 105.5,250.3 106.0,250.4 106.5,250.5 107.0,250.3 107.5,250.1 108.0,250.3 108.5,250.1 109.0,250.2 109.5,250.4 110.0,250.3 110.5,250.3 111.0,250.1 111.5,250.0 112.0,250.4 112.5,250.5 113.0,250.6 113.5,250.3 114.0,249.8 114.5,250.1 115.0,250.5 115.5,250.9 116.0,250.9 116.5,250.3 117.0,250.4 117.5,250.4 118.0,249.9 118.5,250.6 119.0,251.0 119.5,250.6 120.0,250.6 120.5,250.9 121.0,250.8 121.5,250.7 122.0,250.4 122.5,249.9 123.0,250.4 123.5,251.0 124.0,250.8 124.5,250.6 125.0,250.5 125.5,250.3 126.0,250.6 126.5,250.9 127.0,250.6 127.5,250.6 128.0,250.7 128.5,250.7 129.0,250.7 129.5,250.3 130.0,250.3 130.5,251.0 131.0,250.7 131.5,250.3 132.0,250.6 132.5,250.8 133.0,250.7 133.5,250.2 134.0,250.2 134.5,250.3 135.0,250.0 135.5,250.3 136.0,250.4 136.5,250.5 137.0,251.2 137.5,251.2 138.0,250.7 138.5,250.3 139.0,250.1 139.5,250.0 140.0,250.0 140.5,250.0 141.0,250.0 141.5,250.1 142.0,250.1 142.5,249.8 143.0,249.7 143.5,250.1 144.0,250.3 144.5,250.4 145.0,250.6 145.5,250.3 146.0,250.2 146.5,249.9 147.0,250.2 147.5,250.7 148.0,250.1 148.5,249.5 149.0,249.6 149.5,249.3 150.0,248.9 150.5,249.3 151.0,249.2 151.5,248.7 152.0,248.6 152.5,248.1 153.0,247.5 153.5,247.0 154.0,246.0 154.5,244.8 155.0,241.9 155.5,236.1 156.0,225.6 156.5,213.6 156.7,210.7 157.0,210.1 157.5,218.4 158.0,229.8 158.5,238.5 159.0,243.3 159.5,245.0 160.0,246.1 160.5,246.7 161.0,246.9 161.5,247.4 162.0,247.7 162.5,247.3 163.0,247.5 163.5,247.9 164.0,247.4 164.5,246.8 165.0,246.3 165.5,245.8 166.0,245.8 166.5,245.4 167.0,244.2 167.5,243.1 168.0,242.0 168.5,239.2 169.0,232.0 169.5,176.0 170.0,-176.6 170.5,-599.9 171.0,-177.0 171.5,175.6 172.0,231.8 172.5,238.8 173.0,241.8 173.5,243.6 174.0,244.8 174.5,245.5 175.0,245.9 175.5,245.9 176.0,245.6 176.5,245.8 177.0,246.0 177.5,245.8 178.0,245.7 178.5,245.2 179.0,244.5 179.5,244.0 180.0,243.2 180.5,241.7 181.0,239.5 181.5,235.6 182.0,225.2 182.5,179.3 183.0,50.7 183.2,12.2 183.5,26.4 184.0,106.4 184.5,197.0 185.0,229.7 185.5,238.1 186.0,241.8 186.5,243.4 187.0,244.8 187.5,246.0 188.0,246.9 188.5,247.3 189.0,248.1 189.5,248.4 190.0,248.3 190.5,248.9 191.0,249.5 191.5,249.8 192.0,249.6 192.5,249.8 193.0,250.2 193.5,250.5 194.0,250.2 194.5,250.0 195.0,250.3 195.5,250.0 196.0,249.9 196.5,250.5 197.0,250.6 197.5,250.3 198.0,250.6 198.5,251.0 199.0,251.0 199.5,250.7 200.0,250.5 200.5,250.9 201.0,250.8 201.5,250.5 202.0,250.8 202.5,251.3 203.0,250.9 203.5,250.1 204.0,250.1 204.5,250.4 205.0,250.7 205.5,251.0 206.0,251.0 206.5,250.8 207.0,250.9 207.5,250.8 208.0,250.8 208.5,250.9 209.0,251.4 209.5,251.7 210.0,251.0 210.5,250.7 211.0,250.8 211.5,250.7 212.0,250.6 212.5,250.8 213.0,251.1 213.5,251.2 214.0,250.9 214.5,250.7 215.0,250.6 215.5,250.9 216.0,251.1 216.5,251.3 217.0,251.3 217.5,251.2 218.0,251.4 218.5,251.2 219.0,250.8 219.5,250.5 220.0,251.1 220.5,251.6 221.0,251.5 221.5,251.4 222.0,251.2 222.5,251.0 223.0,250.9 223.5,251.1 224.0,251.2 224.5,250.8 225.0,250.2 225.5,249.4 226.0,248.4 226.3,247.7 226.5,247.9 227.0,248.6 227.5,249.2 228.0,250.4 228.5,251.2 229.0,251.2 229.5,251.2 230.0,251.1 230.5,250.9 231.0,250.6 231.5,251.0 232.0,251.1 232.5,251.0 233.0,251.2 233.5,250.9 234.0,251.0 234.5,251.3 235.0,251.5 235.5,251.8 236.0,251.7 236.5,251.5 237.0,251.3 237.5,251.3 238.0,251.4 238.5,251.2 239.0,251.1 239.5,251.2 240.0,251.2 240.5,251.2 241.0,251.0 241.5,250.7 242.0,250.9 242.5,250.6 243.0,250.2 243.5,250.6 244.0,249.8 244.5,248.7 245.0,248.1 245.5,244.7 246.0,238.6 246.5,228.5 247.0,220.3 247.5,221.8 248.0,228.5 248.5,237.1 249.0,243.8 249.5,247.4 250.0,249.2 250.5,249.9 251.0,250.1 251.5,250.8 252.0,250.8 252.5,250.7 253.0,251.1 253.5,250.9 254.0,251.2 254.5,251.6 255.0,251.1 255.5,251.1 256.0,251.2 256.5,251.2 257.0,251.3 257.5,251.4 258.0,251.6 258.5,251.6 259.0,251.6 259.5,251.7 260.0,251.7 260.5,251.6 261.0,251.4 261.5,251.3 262.0,251.5 262.5,251.9 263.0,252.2 263.5,252.3 264.0,252.0 264.5,251.7 265.0,251.7 265.5,251.7 266.0,252.0 266.5,252.2 267.0,251.7 267.5,251.4 268.0,251.8 268.5,252.0 269.0,251.7 269.5,251.9 270.0,251.9 270.5,251.6 271.0,251.6 271.5,251.3 272.0,251.5 272.5,251.7 273.0,251.4 273.5,251.5 274.0,251.7 274.5,251.9 275.0,251.7 275.5,251.4 276.0,251.4 276.5,251.5 277.0,251.5 277.5,251.9 278.0,251.8 278.5,252.2 279.0,252.3 279.5,252.0 280.0,251.9 280.5,251.8 281.0,251.9 281.5,252.2 282.0,251.8 282.5,251.7 283.0,252.1 283.5,252.1 284.0,252.1 284.5,251.6 285.0,251.3 285.5,251.9 286.0,252.2 286.5,251.6 287.0,251.6 287.5,251.8 288.0,251.4 288.5,251.0 289.0,251.0 289.5,251.6 290.0,251.9 290.5,251.8 291.0,251.8 291.5,252.0 292.0,251.5 292.5,251.3 293.0,251.6 293.5,251.4 294.0,251.5 294.5,251.7 295.0,251.7 295.5,251.5 296.0,251.4 296.5,252.1 297.0,252.0 297.5,251.2 298.0,251.5 298.5,251.9 299.0,251.9 299.5,251.5 300.0,251.5 300.5,251.3 301.0,250.2 301.5,249.1 302.0,247.7 302.4,247.0 302.5,247.1 303.0,247.3 303.5,248.3 304.0,249.6 304.5,250.7 305.0,251.1 305.5,250.9 306.0,251.5 306.5,251.6 307.0,251.4 307.5,251.7 308.0,251.7 308.5,251.6 309.0,252.0 309.5,251.6 310.0,251.5 310.5,252.5 311.0,252.3 311.5,251.9 312.0,252.0 312.5,252.4 313.0,252.0 313.5,251.6 314.0,251.8 314.5,251.9 315.0,252.0 315.5,252.0 316.0,251.9 316.5,251.8 317.0,251.7 317.5,251.6 318.0,251.7 318.5,251.8 319.0,251.6 319.5,251.9 320.0,252.1 320.5,251.5 321.0,251.8 321.5,251.9 322.0,251.8 322.5,251.9 323.0,251.8 323.5,251.9 324.0,251.7 324.5,251.6 325.0,252.1 325.5,251.6 326.0,251.2 326.5,251.7 327.0,251.5 327.5,251.0 328.0,251.6 328.5,251.7 329.0,251.6 329.5,251.7 330.0,251.2 330.5,250.9 331.0,250.8 331.5,250.6 332.0,250.1 332.5,249.2 333.0,247.9 333.5,245.4 334.0,239.1 334.5,225.6 335.0,206.1 335.5,191.7 336.0,194.0 336.5,203.2 337.0,215.7 337.5,229.9 338.0,240.2 338.5,245.9 339.0,248.3 339.5,249.7 340.0,250.4 340.5,251.0 341.0,251.6 341.5,251.2 342.0,251.1 342.5,250.6 343.0,250.8 343.5,251.5 344.0,252.0 344.5,251.7 345.0,251.8 345.5,252.0 346.0,251.8 346.5,251.4 347.0,251.3 347.5,251.8 348.0,251.9 348.5,252.0 349.0,251.7 349.5,251.9 350.0,252.2 350.5,252.2 351.0,252.3 351.5,252.4 352.0,252.2 352.5,251.7 353.0,251.4 353.5,252.0 354.0,252.4 354.5,252.1 355.0,251.9 355.5,251.9 356.0,252.0 356.5,251.9 357.0,251.8 357.5,252.3 358.0,252.5 358.5,251.9 359.0,251.6 359.5,251.6 360.0,251.9 360.5,252.2 361.0,252.0 361.5,251.9 362.0,251.8 362.5,251.5 363.0,251.8 363.5,252.0 364.0,252.1 364.5,251.7 365.0,250.8 365.5,250.2 366.0,248.1 366.5,244.4 367.0,241.4 367.1,241.4 367.5,242.0 368.0,243.4 368.5,245.2 369.0,247.6 369.5,249.5 370.0,250.6 370.5,251.1 371.0,251.4 371.5,251.8 372.0,251.7 372.5,251.6 373.0,251.5 373.5,250.9 374.0,250.3 374.5,249.7 375.0,248.1 375.5,245.9 375.8,245.0 376.0,244.8 376.5,246.0 377.0,247.0 377.5,247.9 378.0,249.2 378.5,250.5 379.0,250.9 379.5,251.3 380.0,251.8 380.5,251.6 381.0,251.8 381.5,251.8 382.0,251.3 382.5,251.3 383.0,251.1 383.5,251.1 384.0,251.1 384.5,251.2 385.0,251.0 385.5,250.4 386.0,249.8 386.5,248.7 387.0,247.6 387.5,245.6 388.0,240.9 388.5,229.9 389.0,209.8 389.5,186.0 389.8,177.7 390.0,177.3 390.5,187.2 391.0,197.3 391.5,209.1 392.0,224.5 392.5,236.9 393.0,244.6 393.5,247.8 394.0,248.7 394.5,249.5 395.0,249.8 395.5,250.5 396.0,251.1 396.5,251.2 397.0,251.7 397.5,252.3 398.0,251.9 398.5,251.7 399.0,252.1 399.5,252.0 400.0,252.0 400.5,252.0 401.0,252.3 401.5,252.4 402.0,252.2 402.5,252.4 403.0,252.5 403.5,252.4 404.0,252.3 404.5,252.6 405.0,252.6 405.5,252.3 406.0,252.0 406.5,252.0 407.0,251.9 407.5,252.0 408.0,252.3 408.5,251.9 409.0,251.8 409.5,252.4 410.0,252.4 410.5,252.1 411.0,252.3 411.5,252.4 412.0,251.9 412.5,251.8 413.0,252.1 413.5,252.5 414.0,252.7 414.5,252.6 415.0,252.1 415.5,251.9 416.0,252.0 416.5,252.1 417.0,251.9 417.5,252.0 418.0,252.4 418.5,252.3 419.0,252.3 419.5,252.0 420.0,251.2 420.5,250.7 421.0,250.5 421.3,250.6 421.5,250.3 422.0,250.7 422.5,251.0 423.0,251.3 423.5,251.9 424.0,251.9 424.5,252.2 425.0,252.3 425.5,252.0 426.0,251.9 426.5,252.1 427.0,252.4 427.5,252.4 428.0,252.3 428.5,252.6 429.0,252.6 429.5,252.2 430.0,252.5 430.5,253.0 431.0,252.8" fill="none" stroke="#22a559" stroke-width="1.5" stroke-linejoin="round"/><polyline points="29.0,294.6 29.5,294.5 30.0,295.0 30.5,295.1 31.0,295.3 31.5,295.1 32.0,294.9 32.5,295.1 33.0,295.2 33.5,295.3 34.0,295.3 34.5,295.2 35.0,294.7 35.5,294.6 36.0,294.8 36.5,294.8 37.0,295.2 37.5,295.7 38.0,295.5 38.5,295.0 39.0,295.0 39.5,295.0 40.0,295.4 40.5,295.6 41.0,295.4 41.5,295.3 42.0,294.8 42.5,294.7 43.0,294.9 43.5,295.1 44.0,295.4 44.5,295.2 45.0,295.1 45.5,295.6 46.0,295.5 46.5,295.0 47.0,295.1 47.5,295.2 48.0,295.2 48.5,295.4 49.0,295.9 49.5,295.4 50.0,295.1 50.5,295.4 51.0,295.4 51.5,295.4 52.0,295.4 52.5,295.6 53.0,295.6 53.5,295.4 54.0,295.5 54.5,295.5 55.0,295.5 55.5,295.7 56.0,295.7 56.5,295.6 57.0,295.6 57.5,295.4 58.0,295.2 58.5,295.2 59.0,295.4 59.5,295.5 60.0,295.3 60.5,295.5 61.0,295.8 61.5,295.4 62.0,295.6 62.5,296.0 63.0,295.7 63.5,295.9 64.0,295.9 64.5,295.6 65.0,296.0 65.5,296.0 66.0,295.5 66.5,295.9 67.0,295.7 67.5,295.5 68.0,295.8 68.5,296.3 69.0,296.1 69.5,295.6 70.0,295.9 70.5,295.9 71.0,295.6 71.5,295.6 72.0,295.9 72.5,295.9 73.0,296.1 73.5,296.2 74.0,296.1 74.5,295.9 75.0,295.6 75.5,295.6 76.0,295.8 76.5,295.8 77.0,295.8 77.5,295.7 78.0,296.0 78.5,296.6 79.0,296.2 79.5,295.8 80.0,295.9 80.5,296.0 81.0,296.2 81.5,295.9 82.0,295.8 82.5,295.8 83.0,295.7 83.5,295.8 84.0,295.8 84.5,295.8 85.0,296.0 85.5,296.1 86.0,296.1 86.5,296.0 87.0,295.9 87.5,295.8 88.0,295.9 88.5,295.8 89.0,295.9 89.5,296.1 90.0,295.6 90.5,295.5 91.0,295.6 91.5,295.8 92.0,295.7 92.5,295.3 93.0,295.3 93.5,295.9 94.0,295.9 94.5,295.6 95.0,295.8 95.5,295.4 96.0,295.4 96.5,295.9 97.0,296.0 97.5,296.0 98.0,296.0 98.5,295.8 99.0,295.8 99.5,295.9 100.0,296.3 100.5,296.3 101.0,296.0 101.5,295.8 102.0,295.6 102.5,296.0 103.0,296.0 103.5,295.5 104.0,295.7 104.5,295.8 105.0,296.2 105.5,295.8 106.0,295.5 106.5,296.1 107.0,295.8 107.5,295.5 108.0,295.9 108.5,296.3 109.0,296.0 109.5,295.4 110.0,295.8 110.5,296.4 111.0,296.1 111.5,295.4 112.0,295.8 112.5,296.2 113.0,296.1 113.5,296.1 114.0,295.8 114.5,295.7 115.0,296.1 115.5,296.5 116.0,295.8 116.5,295.3 117.0,296.1 117.5,296.2 118.0,295.6 118.5,295.6 119.0,295.9 119.5,295.9 120.0,295.8 120.5,295.8 121.0,295.8 121.5,295.9 122.0,295.8 122.5,295.7 123.0,295.8 123.5,296.2 124.0,296.3 124.5,296.0 125.0,296.0 125.5,296.1 126.0,296.2 126.5,296.2 127.0,296.4 127.5,296.5 128.0,296.2 128.5,295.8 129.0,296.0 129.5,296.2 130.0,296.0 130.5,295.6 131.0,295.3 131.5,295.6 132.0,296.1 132.5,296.2 133.0,295.8 133.5,295.9 134.0,296.0 134.5,295.9 135.0,296.1 135.5,295.8 136.0,295.6 136.5,295.4 137.0,295.3 137.5,295.3 138.0,295.6 138.5,296.0 139.0,296.1 139.5,296.1 140.0,295.8 140.5,295.8 141.0,295.8 141.5,295.9 142.0,296.0 142.5,295.7 143.0,295.6 143.5,295.8 144.0,295.7 144.5,295.9 145.0,296.3 145.5,296.0 146.0,295.6 146.5,295.2 147.0,295.2 147.5,295.5 148.0,295.1 148.5,295.2 149.0,295.7 149.5,295.4 150.0,295.1 150.5,295.0 151.0,295.1 151.5,294.8 152.0,294.4 152.5,294.9 153.0,294.6 153.5,293.8 154.0,293.0 154.5,291.3 155.0,288.0 155.5,279.8 156.0,261.9 156.5,239.5 156.7,234.4 157.0,234.1 157.5,249.6 158.0,270.2 158.5,283.4 159.0,289.6 159.5,292.2 160.0,293.1 160.5,293.4 161.0,293.3 161.5,293.7 162.0,294.0 162.5,293.8 163.0,293.7 163.5,293.9 164.0,293.6 164.5,293.0 165.0,292.0 165.5,291.4 166.0,290.7 166.5,289.1 167.0,286.2 167.5,280.6 168.0,255.3 168.5,85.0 169.0,-440.1 169.4,-800.2 169.5,-794.7 170.0,-314.0 170.5,143.4 171.0,264.5 171.5,281.9 172.0,287.0 172.5,289.5 173.0,291.1 173.5,292.0 174.0,292.2 174.5,292.4 175.0,292.6 175.5,293.2 176.0,293.4 176.5,293.2 177.0,293.1 177.5,292.6 178.0,291.8 178.5,291.0 179.0,290.0 179.5,288.1 180.0,284.5 180.5,276.0 181.0,252.3 181.5,199.4 182.0,127.8 182.2,110.0 182.5,108.0 183.0,154.6 183.5,220.5 184.0,261.8 184.5,278.9 185.0,285.7 185.5,289.2 186.0,291.0 186.5,292.0 187.0,292.9 187.5,293.3 188.0,294.4 188.5,294.8 189.0,294.4 189.5,294.5 190.0,294.8 190.5,295.2 191.0,295.4 191.5,295.4 192.0,295.1 192.5,295.2 193.0,295.5 193.5,295.4 194.0,295.2 194.5,295.2 195.0,295.4 195.5,295.6 196.0,295.5 196.5,295.5 197.0,295.9 197.5,295.6 198.0,295.5 198.5,295.6 199.0,295.9 199.5,295.6 200.0,295.4 200.5,295.6 201.0,295.6 201.5,296.1 202.0,296.0 202.5,295.9 203.0,295.9 203.5,296.3 204.0,296.6 204.5,296.5 205.0,296.0 205.5,295.6 206.0,296.1 206.5,296.3 207.0,296.0 207.5,296.1 208.0,295.9 208.5,296.0 209.0,296.3 209.5,296.2 210.0,296.1 210.5,296.1 211.0,296.1 211.5,296.2 212.0,296.6 212.5,296.6 213.0,296.5 213.5,296.4 214.0,295.8 214.5,295.8 215.0,296.3 215.5,296.2 216.0,296.2 216.5,295.9 217.0,295.8 217.5,296.2 218.0,296.6 218.5,296.4 219.0,295.9 219.5,296.3 220.0,296.3 220.5,296.5 221.0,296.7 221.5,296.1 222.0,296.3 222.5,296.8 223.0,296.3 223.5,296.3 224.0,296.5 224.5,296.5 225.0,296.5 225.5,295.9 226.0,296.0 226.5,296.5 227.0,296.9 227.5,297.0 228.0,296.7 228.5,296.3 229.0,296.1 229.5,296.1 230.0,296.0 230.5,296.0 231.0,295.7 231.5,295.8 232.0,296.3 232.5,296.8 233.0,296.9 233.5,296.3 234.0,296.3 234.5,296.1 235.0,295.9 235.5,295.7 236.0,296.1 236.5,296.6 237.0,296.1 237.5,295.9 238.0,296.3 238.5,296.4 239.0,296.3 239.5,296.0 240.0,295.8 240.5,295.9 241.0,296.2 241.5,295.9 242.0,295.4 242.5,295.7 243.0,295.6 243.5,295.4 244.0,295.3 244.5,294.7 245.0,293.9 245.5,291.1 246.0,284.2 246.5,272.2 247.0,261.9 247.5,263.5 248.0,272.1 248.5,282.6 249.0,290.0 249.5,293.4 250.0,294.4 250.5,295.2 251.0,295.5 251.5,295.6 252.0,295.5 252.5,295.8 253.0,295.9 253.5,295.9 254.0,295.9 254.5,296.1 255.0,296.2 255.5,296.2 256.0,296.1 256.5,295.8 257.0,296.4 257.5,296.4 258.0,296.1 258.5,296.2 259.0,295.8 259.5,295.9 260.0,296.5 260.5,296.2 261.0,296.2 261.5,296.3 262.0,296.0 262.5,296.2 263.0,296.2 263.5,296.7 264.0,296.5 264.5,296.2 265.0,296.7 265.5,296.2 266.0,295.7 266.5,296.2 267.0,296.4 267.5,296.4 268.0,296.7 268.5,296.6 269.0,296.1 269.5,295.7 270.0,295.9 270.5,296.3 271.0,296.3 271.5,296.5 272.0,296.2 272.5,296.5 273.0,297.0 273.5,296.8 274.0,296.4 274.5,296.1 275.0,296.2 275.5,296.2 276.0,296.1 276.5,296.3 277.0,296.6 277.5,296.6 278.0,296.4 278.5,296.6 279.0,296.7 279.5,295.9 280.0,295.8 280.5,296.3 281.0,296.6 281.5,296.6 282.0,296.3 282.5,296.2 283.0,296.4 283.5,296.5 284.0,296.2 284.5,296.2 285.0,296.4 285.5,296.4 286.0,296.0 286.5,296.2 287.0,296.4 287.5,296.3 288.0,296.6 288.5,296.7 289.0,296.9 289.5,296.5 290.0,296.3 290.5,296.1 291.0,296.5 291.5,296.8 292.0,296.8 292.5,296.6 293.0,295.9 293.5,296.3 294.0,296.7 294.5,296.4 295.0,296.4 295.5,296.5 296.0,296.6 296.5,296.1 297.0,296.2 297.5,296.4 298.0,296.0 298.5,296.4 299.0,296.6 299.5,296.1 300.0,295.2 300.5,294.4 301.0,293.0 301.5,290.5 301.8,289.1 302.0,288.9 302.5,289.8 303.0,291.5 303.5,293.8 304.0,295.3 304.5,295.7 305.0,295.9 305.5,296.2 306.0,296.2 306.5,296.1 307.0,296.6 307.5,296.7 308.0,296.5 308.5,296.4 309.0,296.2 309.5,296.0 310.0,296.0 310.5,296.5 311.0,297.0 311.5,297.0 312.0,296.7 312.5,296.5 313.0,296.2 313.5,296.2 314.0,296.4 314.5,296.3 315.0,296.3 315.5,296.3 316.0,295.7 316.5,295.7 317.0,295.7 317.5,295.7 318.0,296.2 318.5,296.4 319.0,296.2 319.5,296.5 320.0,296.7 320.5,296.4 321.0,296.4 321.5,296.5 322.0,296.2 322.5,296.2 323.0,295.9 323.5,295.7 324.0,295.9 324.5,296.1 325.0,296.0 325.5,295.9 326.0,296.1 326.5,296.3 327.0,296.2 327.5,296.1 328.0,295.8 328.5,295.3 329.0,295.3 329.5,295.1 330.0,294.6 330.5,294.7 331.0,294.2 331.5,293.0 332.0,292.0 332.5,290.5 333.0,285.3 333.5,272.3 334.0,246.6 334.5,216.2 334.7,209.8 335.0,210.8 335.5,225.2 336.0,240.0 336.5,260.9 337.0,278.0 337.5,286.8 338.0,291.1 338.5,293.0 339.0,293.8 339.5,293.9 340.0,294.4 340.5,294.8 341.0,295.5 341.5,295.8 342.0,295.5 342.5,295.4 343.0,295.4 343.5,295.4 344.0,295.8 344.5,296.0 345.0,296.0 345.5,295.9 346.0,295.8 346.5,296.2 347.0,296.1 347.5,295.5 348.0,295.8 348.5,296.0 349.0,295.8 349.5,296.2 350.0,296.2 350.5,296.2 351.0,296.2 351.5,296.3 352.0,296.7 352.5,296.3 353.0,296.0 353.5,296.0 354.0,296.1 354.5,296.5 355.0,296.1 355.5,296.1 356.0,296.1 356.5,295.7 357.0,295.6 357.5,296.2 358.0,296.6 358.5,296.2 359.0,296.1 359.5,296.2 360.0,295.9 360.5,295.7 361.0,296.5 361.5,296.4 362.0,295.9 362.5,296.1 363.0,295.9 363.5,295.7 364.0,295.9 364.5,295.7 365.0,295.2 365.5,294.2 366.0,291.8 366.5,287.6 367.0,283.7 367.1,283.5 367.5,283.9 368.0,285.5 368.5,287.4 369.0,290.9 369.5,293.1 370.0,294.0 370.5,294.6 371.0,295.4 371.5,295.5 372.0,295.2 372.5,295.4 373.0,295.6 373.5,295.2 374.0,294.0 374.5,291.8 375.0,288.8 375.4,287.4 375.5,287.0 376.0,287.8 376.5,289.0 377.0,290.7 377.5,292.7 378.0,294.3 378.5,295.3 379.0,295.4 379.5,295.6 380.0,295.7 380.5,295.3 381.0,295.1 381.5,295.7 382.0,295.4 382.5,294.8 383.0,295.0 383.5,294.9 384.0,294.2 384.5,293.6 385.0,293.4 385.5,293.1 386.0,292.2 386.5,290.2 387.0,286.5 387.5,276.7 388.0,253.7 388.5,216.0 389.0,187.9 389.5,200.0 390.0,218.0 390.5,229.1 391.0,250.9 391.5,272.2 392.0,283.8 392.5,289.1 393.0,291.3 393.5,292.5 394.0,293.6 394.5,294.1 395.0,294.6 395.5,294.8 396.0,295.0 396.5,294.9 397.0,295.1 397.5,295.3 398.0,295.3 398.5,295.5 399.0,295.7 399.5,295.5 400.0,295.2 400.5,295.5 401.0,295.9 401.5,296.1 402.0,296.2 402.5,296.4 403.0,296.4 403.5,296.1 404.0,295.8 404.5,295.7 405.0,295.8 405.5,296.1 406.0,296.2 406.5,296.2 407.0,296.1 407.5,296.2 408.0,296.3 408.5,296.3 409.0,296.3 409.5,296.1 410.0,295.9 410.5,296.1 411.0,296.4 411.5,296.2 412.0,296.1 412.5,296.6 413.0,296.5 413.5,296.0 414.0,296.2 414.5,296.0 415.0,296.0 415.5,296.6 416.0,296.7 416.5,296.5 417.0,296.4 417.5,296.3 418.0,296.3 418.5,296.2 419.0,295.8 419.5,295.4 420.0,295.1 420.5,294.6 421.0,294.8 421.5,294.7 422.0,294.9 422.5,296.1 423.0,296.5 423.5,296.2 424.0,295.9 424.5,296.1 425.0,296.0 425.5,296.2 426.0,296.3 426.5,296.3 427.0,296.7 427.5,296.1 428.0,295.9 428.5,296.2 429.0,295.8 429.5,295.8 430.0,296.1 430.5,296.4 431.0,296.2" fill="none" stroke="#a362e0" stroke-width="1.5" stroke-linejoin="round"/></g>
<g fill="#000"><polygon points="101.3,88.2 105.8,92.5 101.3,96.8 96.8,92.5"/><polygon points="121.2,107.4 125.7,111.7 121.2,116.0 116.8,111.7"/><rect x="153.7" y="52.6" width="6.6" height="6.6"/><rect x="166.3" y="21.9" width="6.6" height="6.6"/><rect x="178.5" y="26.7" width="6.6" height="6.6"/><polygon points="173.0,63.9 179.9,63.9 176.4,71.8"/><polygon points="189.5,91.2 193.9,95.5 189.5,99.8 185.1,95.5"/><polygon points="197.2,99.0 204.1,99.0 200.7,106.9"/><polygon points="224.0,104.4 228.4,108.7 224.0,113.0 219.6,108.7"/><rect x="241.5" y="50.8" width="6.6" height="6.6"/><rect x="297.5" y="85.9" width="6.6" height="6.6"/><rect x="330.2" y="38.3" width="6.6" height="6.6"/><polygon points="340.1,106.9 346.9,106.9 343.5,114.8"/><polygon points="358.0,107.1 362.4,111.4 358.0,115.8 353.6,111.4"/><rect x="363.2" y="72.9" width="6.6" height="6.6"/><rect x="370.6" y="96.0" width="6.6" height="6.6"/><rect x="384.9" y="101.7" width="6.6" height="6.6"/><rect x="358.4" y="11.1" width="6.6" height="6.6"/><polygon points="357.5,26.2 366.1,26.2 361.8,34.1"/><polygon points="362.0,42.0 366.9,46.8 362.0,51.6 357.1,46.8"/></g>
<g font-family="Liberation Serif" font-weight="bold" font-size="10.6" fill="#000" stroke="#000" stroke-width="0.32"><text transform="translate(32.3,121.6) scale(0.975,1)">Sintered state</text><text transform="translate(32.0,162.1) scale(0.975,1)">Extruded state</text><text transform="translate(32.0,204.5) scale(0.975,1)">Solution-treated state</text><text transform="translate(32.3,244.6) scale(0.975,1)">Rolled state</text><text transform="translate(31.9,289.5) scale(0.975,1)">Annealed state</text></g>
<g font-family="Liberation Serif" font-weight="bold" font-size="11.2" fill="#000" stroke="#000" stroke-width="0.22">
<text x="375.5" y="17.9">Mg</text>
<text x="375.5" y="33.2">Mg<tspan font-size="7.8" dx="0.9" dy="3.4">17</tspan><tspan dx="0.2" dy="-3.4">Al</tspan><tspan font-size="7.8" dx="0.8" dy="3.4">12</tspan></text>
<text x="375.5" y="50.4">Mg<tspan font-size="7.8" dx="0.2" dy="3.4">2</tspan><tspan dx="0.3" dy="-3.4">Pb</tspan></text>
</g>
<g stroke="#222" stroke-width="1.2"><line x1="29.00" y1="318.5" x2="29.00" y2="313.5" /><line x1="57.72" y1="318.5" x2="57.72" y2="315.9" /><line x1="86.43" y1="318.5" x2="86.43" y2="313.5" /><line x1="115.15" y1="318.5" x2="115.15" y2="315.9" /><line x1="143.86" y1="318.5" x2="143.86" y2="313.5" /><line x1="172.58" y1="318.5" x2="172.58" y2="315.9" /><line x1="201.29" y1="318.5" x2="201.29" y2="313.5" /><line x1="230.01" y1="318.5" x2="230.01" y2="315.9" /><line x1="258.72" y1="318.5" x2="258.72" y2="313.5" /><line x1="287.44" y1="318.5" x2="287.44" y2="315.9" /><line x1="316.15" y1="318.5" x2="316.15" y2="313.5" /><line x1="344.87" y1="318.5" x2="344.87" y2="315.9" /><line x1="373.58" y1="318.5" x2="373.58" y2="313.5" /><line x1="402.30" y1="318.5" x2="402.30" y2="315.9" /><line x1="431.01" y1="318.5" x2="431.01" y2="313.5" /></g>
<rect x="28.9" y="2.1" width="402" height="316.6" fill="none" stroke="#111" stroke-width="1.7"/>
<g font-family="Liberation Serif" font-weight="bold" font-size="12.5" fill="#000" stroke="#000" stroke-width="0.22"><text x="29.00" y="335" text-anchor="middle">10</text><text x="86.43" y="335" text-anchor="middle">20</text><text x="143.86" y="335" text-anchor="middle">30</text><text x="201.29" y="335" text-anchor="middle">40</text><text x="258.72" y="335" text-anchor="middle">50</text><text x="316.15" y="335" text-anchor="middle">60</text><text x="373.58" y="335" text-anchor="middle">70</text><text x="431.01" y="335" text-anchor="middle">80</text></g>
<text transform="translate(230.1,353.3) scale(0.95,1)" text-anchor="middle" font-family="Liberation Serif" font-weight="bold" font-size="16.2" fill="#000" stroke="#000" stroke-width="0.22">2-Theta/degree</text>
<text transform="translate(13.0,155.3) rotate(-90)" text-anchor="middle" font-family="Liberation Serif" font-weight="bold" font-size="15.4" fill="#000" stroke="#000" stroke-width="0.22">Indensity/(a.u.)</text>
</svg></body></html>
